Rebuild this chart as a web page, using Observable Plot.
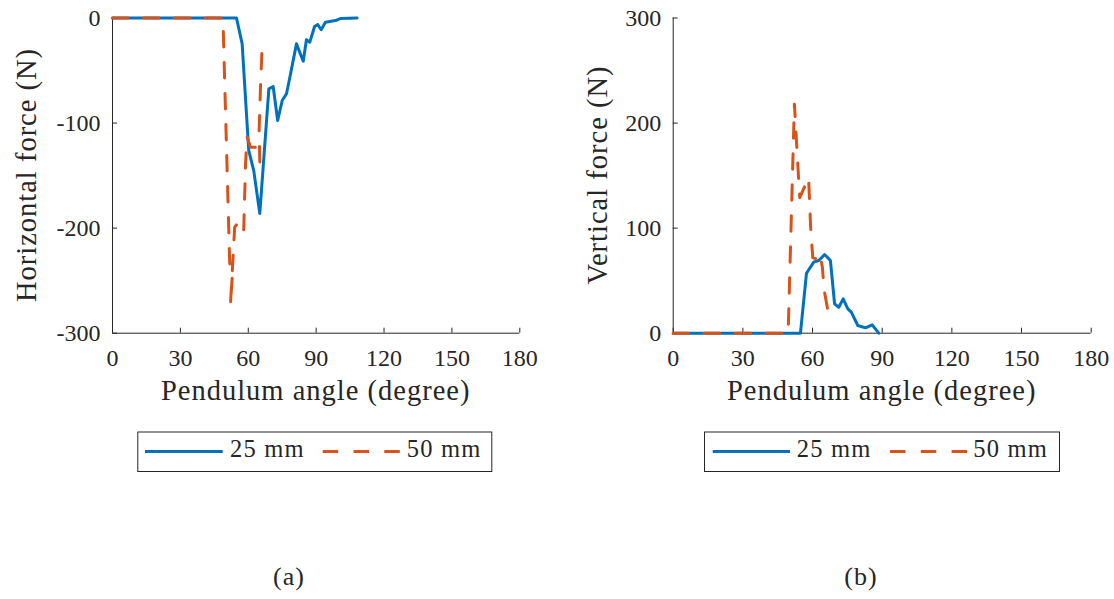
<!DOCTYPE html>
<html><head><meta charset="utf-8">
<script src="https://cdn.jsdelivr.net/npm/d3@7"></script>
<script src="https://cdn.jsdelivr.net/npm/@observablehq/plot@0.6"></script>
<style>
body{margin:0;background:#fff;}
#wrap{position:relative;width:1114px;height:599px;font-family:"Liberation Serif","Tinos","Times New Roman","DejaVu Serif",serif;color:#262626;overflow:hidden;}
#wrap > svg{position:absolute;top:0;}
#wrap text{font-family:"Liberation Serif","Tinos","Times New Roman","DejaVu Serif",serif;}
#overlay{position:absolute;left:0;top:0;pointer-events:none;}
</style></head><body><div id="wrap"></div>
<script>
// ---- data ----
const xTicks = [0, 30, 60, 90, 120, 150, 180];
const hTicks = [0, -100, -200, -300];
const vTicks = [0, 100, 200, 300];
const series = ["25 mm", "50 mm"];
const colors = ["#0072BD", "#D95319"];
const captions = ["(a)", "(b)"];
const yLabels = ["Horizontal force (N)", "Vertical force (N)"];
const xLabel = "Pendulum angle (degree)";

// Horizontal force, 25 mm
const h25Angle = [0, 54.8, 57.3, 60.2, 62.4, 65.1, 69.1, 71.0, 73.0, 75.0, 76.9, 78.7, 81.3, 84.3, 85.7, 87.2, 89.3, 90.7, 92.2, 94.1, 98.5, 100.7, 108.1];
const h25Force = [0, 0, -24.6, -126, -145, -186, -67.4, -65.2, -97.6, -78.5, -72.1, -53.1, -24.6, -41.1, -20.7, -23.0, -8.1, -6.2, -11.2, -4.0, -2.4, -0.5, 0];
// Horizontal force, 50 mm
const h50Angle = [0, 48.8, 51.8, 53.2, 52.1, 54.0, 56.3, 58.0, 58.8, 59.5, 61.0, 63.2, 65.1, 64.8, 65.4, 66.2];
const h50Force = [0, 0, -233.7, -237, -273.6, -199, -192.7, -201.6, -138.5, -113.4, -123, -123, -137, -107, -65.9, -23];
// Vertical force, 25 mm
const v25Angle = [0, 54.8, 57.4, 60.5, 62.7, 65.2, 67.7, 69.5, 71.3, 73.2, 75.2, 76.7, 79.5, 82.8, 85.7, 88.5];
const v25Force = [0, 0, 57.1, 67.6, 69.2, 74.9, 69.2, 28, 24.7, 32.7, 23.2, 20, 7.3, 5.1, 8, 0];
// Vertical force, 50 mm
const v50Angle = [0, 49.5, 52.2, 54.0, 54.5, 58.3, 59.2, 60.1, 61.4, 62.5, 63.5, 64.3, 64.9, 67.0];
const v50Force = [0, 0, 218, 147, 129, 148, 100, 72, 70.8, 67, 72, 62, 42.3, 16.8];

const zip = (a, f) => a.map((x, i) => ({angle: x, force: f[i]}));
const axisColor = "#262626";
const font = "Liberation Serif, Tinos, Times New Roman, DejaVu Serif, serif";

function panel(d25, d50, yDomain, yTicks, ml, mr) {
  return Plot.plot({
    width: 557, height: 420,
    marginLeft: ml, marginRight: mr, marginTop: 17.5, marginBottom: 87.3,
    style: {fontFamily: font, fontSize: "24px", color: axisColor, background: "transparent", overflow: "visible"},
    x: {domain: [0, 180], label: null},
    y: {domain: yDomain, label: null},
    marks: [
      Plot.ruleX([0], {stroke: axisColor, strokeWidth: 1}),
      Plot.ruleY([yDomain[0]], {stroke: axisColor, strokeWidth: 1}),
      Plot.axisX(xTicks, {tickSize: -5, tickPadding: 20.3, label: null, fontSize: 24, tickFormat: d => String(d)}),
      Plot.axisY(yTicks, {tickSize: -5, tickPadding: 17, label: null, fontSize: 24, tickFormat: d => String(d).replace("\u2212", "-")}),
      Plot.line(d25, {x: "angle", y: "force", stroke: colors[0], strokeWidth: 3, strokeLinejoin: "round"}),
      Plot.line(d50, {x: "angle", y: "force", stroke: colors[1], strokeWidth: 3, strokeDasharray: "15.5,15.5", strokeLinejoin: "round"})
    ]
  });
}

const wrap = document.getElementById("wrap");
const p1 = panel(zip(h25Angle, h25Force), zip(h50Angle, h50Force), [-300, 0], hTicks, 112, 37.7);
p1.style.left = "0px";
wrap.appendChild(p1);
const p2 = panel(zip(v25Angle, v25Force), zip(v50Angle, v50Force), [0, 300], vTicks, 115.7, 23.3);
p2.style.left = "557px";
wrap.appendChild(p2);

// ---- overlay: axis labels, legends, captions ----
const ns = "http://www.w3.org/2000/svg";
const ov = document.createElementNS(ns, "svg");
ov.setAttribute("id", "overlay");
ov.setAttribute("width", 1114); ov.setAttribute("height", 599);
wrap.appendChild(ov);
function el(tag, attrs, text) {
  const e = document.createElementNS(ns, tag);
  for (const k in attrs) e.setAttribute(k, attrs[k]);
  if (text != null) e.textContent = text;
  ov.appendChild(e);
  return e;
}
const txt = {"font-family": font, fill: axisColor};
const panels = [
  {cx: 315.7, ylx: 36, cap: 289, leg: [137.8, 145, 222.7, 230, 322.7, 400, 406.7, 491.8]},
  {cx: 881.7, ylx: 607, cap: 861, leg: [704.5, 712.7, 790, 796.7, 890, 967.3, 973.3, 1059.5]}
];
panels.forEach((p, i) => {
  el("text", {...txt, x: p.cx, y: 400, "text-anchor": "middle", "font-size": 28.5, "letter-spacing": 1}, xLabel);
  el("text", {...txt, transform: `translate(${p.ylx},175) rotate(-90)`, "text-anchor": "middle", "font-size": 28.5, "letter-spacing": 1}, yLabels[i]);
  el("text", {...txt, x: p.cap, y: 585, "text-anchor": "middle", "font-size": 26, "letter-spacing": 1}, captions[i]);
  const L = p.leg;
  el("rect", {x: L[0], y: 432, width: L[7] - L[0], height: 39.5, fill: "#fff", stroke: axisColor, "stroke-width": 1});
  el("line", {x1: L[1], x2: L[2], y1: 451.5, y2: 451.5, stroke: colors[0], "stroke-width": 3});
  el("text", {...txt, x: L[3], y: 457, "font-size": 24.5, "letter-spacing": 1.2}, series[0]);
  el("line", {x1: L[4], x2: L[5], y1: 451.5, y2: 451.5, stroke: colors[1], "stroke-width": 3, "stroke-dasharray": "15.5,15.3"});
  el("text", {...txt, x: L[6], y: 457, "font-size": 24.5, "letter-spacing": 1.2}, series[1]);
});
</script></body></html>
